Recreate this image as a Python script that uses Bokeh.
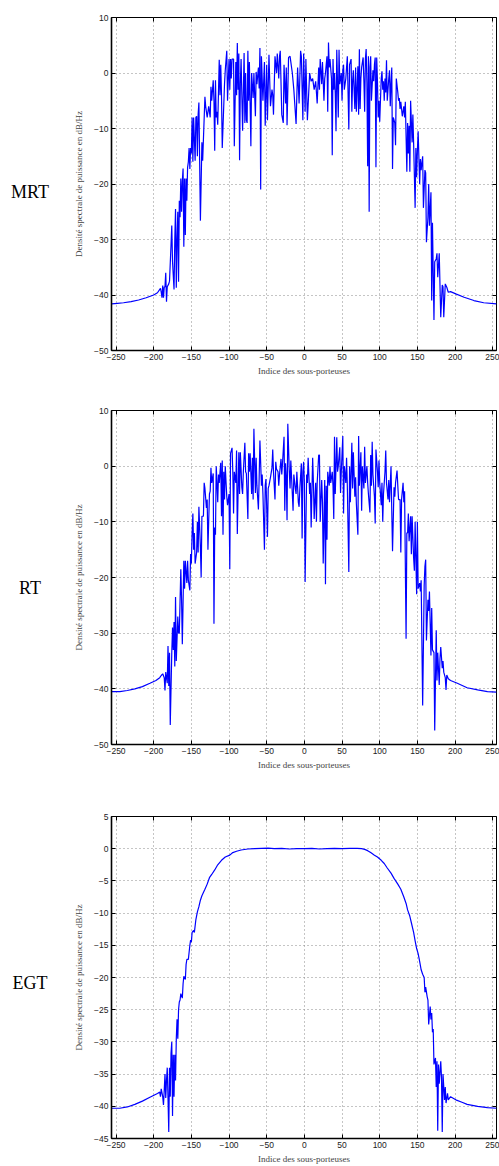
from bokeh.plotting import figure
from bokeh.layouts import column, row
from bokeh.models import Div, LinearAxis, FixedTicker, CustomJSTickFormatter, Range1d
from bokeh.embed import file_html
from bokeh.resources import INLINE

# ---------------- data ----------------
mrt_x = [-256, -248, -240, -230, -220, -210, -200, -195, -191, -190, -189, -188, -187, -186, -185, -184, -183, -182,
         -180, -179, -177, -176, -175, -173, -172, -171, -170, -169, -168, -167, -166, -165, -164, -163, -162, -161,
         -160, -159, -158, -157, -156, -155, -154, -153, -152, -151, -150, -149, -148, -147, -145, -144, -143, -142,
         -141, -140, -138, -136, -135, -132, -131, -129, -127, -125, -124, -123, -121, -120, -119, -118, -117, -116,
         -115, -113, -112, -111, -110, -109, -106, -105, -103, -102, -100, -99, -98, -97, -96, -94, -93, -91, -90,
         -89, -88, -87, -86, -85, -84, -83, -82, -80, -79, -78, -77, -76, -75, -74, -73, -71, -70, -68, -67, -65,
         -64, -63, -61, -60, -59, -58, -57, -55, -53, -52, -50, -49, -47, -45, -43, -42, -41, -39, -37, -36, -34,
         -33, -32, -30, -28, -27, -25, -24, -23, -21, -19, -18, -16, -14, -11, -9, -7, -5, -4, -2, -1, 1, 2, 4,
         7, 9, 11, 13, 15, 17, 19, 20, 21, 23, 24, 26, 27, 28, 29, 30, 31, 32, 33, 34, 36, 37, 38, 39, 40, 41, 42,
         43, 45, 46, 47, 49, 50, 51, 52, 53, 55, 57, 59, 60, 62, 63, 64, 65, 67, 68, 69, 71, 72, 73, 74, 75, 76,
         78, 79, 80, 81, 82, 83, 84, 85, 86, 87, 88, 89, 91, 92, 93, 94, 95, 96, 97, 98, 99, 100, 102, 103, 104,
         105, 106, 107, 108, 109, 110, 112, 113, 114, 115, 116, 117, 118, 120, 121, 122, 124, 125, 126, 127, 128,
         130, 132, 133, 134, 135, 136, 137, 138, 139, 140, 141, 143, 144, 145, 147, 148, 149, 150, 151, 153, 154,
         155, 157, 158, 160, 161, 162, 164, 165, 166, 168, 169, 170, 172, 173, 175, 176, 177, 179, 181, 183, 184,
         185, 187, 189, 191, 194, 201, 212, 225, 238, 255]
mrt_y = [-41.6, -41.5, -41.4, -41.2, -40.9, -40.5, -40.0, -39.6, -38.8, -39.5, -40.5, -38.3, -40.5, -38.6, -38.5,
         -36.0, -41.2, -38.5, -38.0, -37.5, -31.0, -27.5, -34.0, -39.0, -30.0, -24.5, -38.7, -30.0, -25.0, -37.6,
         -23.0, -26.0, -19.0, -25.0, -19.5, -17.2, -31.3, -19.0, -29.2, -19.0, -23.0, -17.0, -16.0, -13.5, -17.3,
         -13.5, -14.5, -8.0, -16.0, -8.0, -15.8, -8.0, -7.8, -15.0, -7.5, -5.3, -26.6, -12.5, -15.8, -4.3, -6.0,
         -8.0, -6.0, -8.0, -2.5, -5.0, -1.3, -5.0, -14.0, -1.3, -8.0, -7.0, -9.3, 2.4, -4.0, 1.5, -4.0, -13.5,
         -2.0, 0.5, 4.0, -5.0, 2.5, -3.0, 2.5, -1.0, 2.5, 2.5, -13.2, 2.0, -4.0, 5.4, -3.0, 3.5, -15.7, -2.0, 2.5,
         -4.0, -10.4, 3.6, -9.0, 0.0, -8.5, -9.0, 4.0, -5.0, 2.0, -13.2, 0.0, -4.5, 0.0, -7.8, 0.2, -2.0, 1.0,
         -2.8, 4.5, -21.0, 3.0, -5.0, 2.0, -9.5, 1.5, -8.5, 3.3, -6.0, -3.0, -4.0, -7.5, 3.0, 0.0, 3.5, -1.0, 3.0,
         4.0, -7.5, -9.0, 1.5, -5.5, 1.0, -9.4, 2.8, 3.0, 2.0, 0.0, -3.0, -9.2, 1.0, -5.5, 4.0, 3.0, -8.5, 3.5,
         -7.0, 2.5, -8.5, 0.0, -1.5, -1.0, -3.0, -1.5, -5.5, 1.0, -3.0, 2.5, -2.0, 2.0, -5.0, -1.0, 0.0, 1.5, 3.0,
         -7.0, 5.5, 1.0, 2.5, -1.0, -14.8, 2.5, -3.0, 0.0, -3.8, -10.5, 4.2, -8.0, 4.2, -2.0, 0.0, -5.0, 0.5, 1.5,
         -3.0, -1.0, 3.0, -10.2, 1.5, 2.5, -7.0, -1.5, 0.5, -6.5, 1.0, -7.0, 1.2, -7.5, 4.3, -6.5, -1.0, 1.0, 2.8,
         -1.5, -7.0, 2.5, 4.3, -1.8, -16.8, 3.0, -25.0, 1.0, 3.0, -5.0, 0.5, -1.5, 1.5, 2.8, -17.0, 2.8, -1.5,
         -8.0, -5.0, -8.8, -1.0, 0.3, -3.0, -1.5, -5.0, -1.0, -3.5, 2.3, -5.0, -1.0, 0.5, -6.0, -2.0, 1.0, -17.3,
         -8.0, -9.0, -13.0, -1.0, -3.5, -5.0, -4.5, -6.5, -5.2, -7.8, -6.0, -8.0, -5.2, -11.5, -17.8, -9.0, -14.5,
         -9.5, -17.8, -5.0, -12.5, -7.5, -12.7, -24.3, -13.5, -18.8, -14.0, -10.5, -20.0, -15.5, -17.5, -15.0,
         -24.3, -17.5, -18.0, -30.5, -26.0, -20.0, -27.5, -21.5, -41.0, -27.0, -44.5, -34.0, -33.5, -32.5, -36.8,
         -32.5, -44.0, -38.2, -38.5, -44.0, -38.0, -38.6, -39.5, -39.4, -39.8, -40.4, -41.0, -41.4, -41.6]

rt_x = [-256, -245, -235, -225, -215, -205, -197, -192, -190, -188, -186, -185, -184, -182, -181, -180, -179, -178,
        -176, -175, -174, -173, -172, -171, -170, -168, -167, -166, -164, -163, -162, -160, -159, -158, -156, -155,
        -154, -152, -151, -150, -149, -148, -147, -146, -145, -143, -142, -141, -140, -138, -137, -136, -134, -133,
        -132, -130, -129, -128, -126, -125, -124, -123, -121, -120, -119, -118, -117, -116, -115, -114, -113, -111,
        -110, -109, -108, -107, -106, -105, -103, -102, -100, -99, -98, -96, -95, -94, -93, -91, -90, -89, -87,
        -86, -85, -83, -82, -81, -79, -78, -77, -75, -74, -73, -72, -70, -69, -68, -67, -65, -64, -63, -61, -60,
        -59, -57, -56, -55, -53, -52, -51, -49, -48, -47, -45, -43, -42, -41, -39, -38, -37, -35, -34, -33, -31,
        -30, -29, -27, -26, -25, -24, -23, -22, -20, -19, -18, -16, -15, -14, -12, -11, -10, -8, -7, -6, -4, -3,
        -2, -1, 0, 1, 3, 4, 5, 7, 8, 9, 11, 12, 13, 15, 16, 17, 19, 20, 21, 23, 24, 25, 27, 28, 29, 30, 31, 33,
        34, 35, 37, 38, 39, 40, 41, 43, 44, 45, 47, 48, 49, 51, 52, 53, 55, 56, 57, 59, 60, 61, 63, 64, 65, 67,
        68, 69, 71, 72, 73, 75, 76, 77, 79, 80, 81, 83, 84, 85, 87, 88, 89, 90, 91, 93, 94, 95, 97, 98, 99, 100,
        102, 103, 104, 105, 107, 108, 109, 111, 112, 113, 115, 116, 117, 119, 120, 121, 123, 124, 125, 127, 128,
        129, 131, 132, 133, 135, 136, 137, 138, 139, 141, 142, 143, 145, 146, 147, 149, 150, 151, 153, 154, 155,
        157, 159, 160, 161, 162, 164, 165, 166, 168, 169, 170, 172, 173, 175, 176, 177, 179, 180, 181, 183, 184,
        185, 187, 188, 189, 191, 194, 203, 216, 230, 243, 255]
rt_y = [-40.5, -40.5, -40.3, -40.0, -39.6, -39.0, -38.5, -38.0, -37.6, -37.3, -38.0, -40.3, -37.0, -39.0, -32.3,
        -39.5, -33.5, -46.5, -33.5, -29.0, -33.0, -28.0, -36.0, -23.5, -35.0, -27.0, -30.0, -30.0, -18.5, -24.0,
        -32.0, -17.0, -22.0, -17.0, -21.0, -17.0, -20.5, -22.3, -15.8, -17.5, -12.0, -8.5, -15.0, -12.0, -17.5,
        -15.5, -10.0, -15.5, -7.3, -14.5, -20.0, -9.0, -9.0, -3.0, -4.0, -7.5, -6.0, -15.0, -5.0, -4.5, -0.3,
        -3.0, -1.3, -28.3, -11.0, -12.3, 0.0, -3.0, -6.5, -1.5, -3.0, 0.6, -9.0, 1.0, -12.3, -1.0, -6.0, 0.0,
        -5.5, -7.0, -5.0, -18.5, 2.3, 3.3, -1.0, -8.5, -1.0, -3.0, 2.8, -12.2, 2.5, -5.0, 2.5, -3.8, -5.0, -1.0,
        4.2, -1.0, -1.3, -9.5, 2.3, -1.0, 2.3, -5.0, 1.5, -6.0, 6.7, -4.8, 1.5, -3.5, -7.8, -2.0, 4.6, -3.5, -1.5,
        -5.0, -15.0, -3.5, -2.3, -12.7, -4.0, -3.5, -2.0, -0.3, 3.0, -1.0, -6.0, 0.8, -0.5, -1.0, -3.5, -1.5, 1.3,
        -1.5, 0.5, 5.3, -8.0, 0.5, -2.0, -9.7, 7.6, -1.0, -4.0, 1.0, -5.0, -8.0, -1.5, -4.0, -5.0, -1.0, -6.5,
        -7.3, -4.0, 0.5, -13.0, -1.0, 0.8, -3.0, -20.8, -1.5, -3.0, 1.5, -5.0, -3.0, -11.0, 1.5, -3.0, -9.5, -3.0,
        -10.0, -3.0, 2.0, 2.0, -10.0, -2.5, -6.5, -17.5, -2.5, -21.2, -3.5, -13.2, -1.0, -3.5, 0.0, -3.0, -1.0,
        -3.5, -9.5, 5.3, -5.0, 5.2, -1.0, 0.0, 3.4, -4.8, -1.0, 5.4, -8.5, 0.0, -3.0, 1.5, -3.5, -19.0, 0.0, -6.5,
        4.2, -4.0, 2.5, -5.5, -2.0, -6.7, -12.3, 5.4, -3.5, 2.5, -8.0, 0.0, -4.0, 3.5, -3.0, 0.0, -3.0, -5.0,
        -8.3, 2.0, -3.5, 4.4, -1.5, -5.5, -10.3, 3.0, -1.0, -3.8, 1.0, -3.0, -7.0, -3.0, -10.0, -5.0, -1.0, 2.8,
        -3.0, -6.0, -2.5, -6.5, 0.0, -8.0, -15.3, -3.8, -5.5, -3.0, -0.8, -3.5, -6.0, -6.0, -15.5, -6.0, -3.0,
        -6.5, -4.5, -31.0, -12.0, -12.0, -8.5, -13.5, -9.0, -15.8, -9.0, -16.5, -18.8, -10.0, -23.0, -10.0, -22.0,
        -21.0, -22.5, -20.5, -43.0, -21.5, -18.0, -16.8, -31.3, -24.0, -26.0, -22.5, -34.0, -25.5, -33.0, -33.5,
        -47.5, -29.5, -38.5, -33.5, -39.3, -34.5, -32.5, -36.3, -35.0, -37.0, -38.0, -40.2, -37.5, -38.2, -38.5,
        -39.0, -39.8, -40.2, -40.5, -40.6]

egt_x = [-256, -245, -235, -225, -215, -205, -195, -192, -191, -190, -188, -187, -186, -185, -184, -183, -182, -181,
         -180, -179, -178, -177, -176, -175, -174, -173, -172, -171, -170, -169, -168, -167, -166, -165, -164, -162,
         -161, -160, -158, -157, -156, -154, -152, -151, -150, -149, -147, -146, -144, -142, -140, -138, -136, -132,
         -129, -126, -123, -119, -115, -110, -105, -99, -95, -90, -84, -75, -66, -57, -48, -40, -30, -20, -10, 0,
         10, 20, 30, 40, 50, 60, 70, 76, 80, 84, 88, 93, 97, 102, 106, 110, 115, 119, 124, 128, 132, 135, 137, 140,
         142, 145, 147, 149, 151, 153, 155, 157, 159, 160, 161, 163, 164, 165, 167, 168, 169, 170, 171, 172, 174,
         175, 176, 177, 178, 179, 181, 182, 183, 184, 186, 187, 188, 190, 191, 194, 201, 210, 216, 230, 243, 255]
egt_y = [-40.3, -40.3, -40.1, -39.7, -39.2, -38.6, -38.0, -37.8, -38.5, -37.3, -38.5, -39.8, -37.5, -35.0, -38.7,
         -36.0, -34.0, -38.7, -44.0, -34.0, -38.5, -31.8, -30.0, -41.5, -32.0, -38.5, -32.0, -36.0, -29.5, -26.5,
         -29.5, -25.0, -23.8, -23.5, -22.5, -23.2, -21.0, -19.8, -20.3, -18.0, -17.2, -17.2, -15.0, -14.2, -14.5,
         -13.0, -12.7, -13.0, -11.0, -9.8, -9.0, -8.0, -7.3, -6.3, -5.5, -4.5, -4.0, -3.3, -2.5, -1.8, -1.3, -1.0,
         -0.6, -0.4, -0.2, -0.05, 0.0, 0.05, 0.1, 0.0, 0.05, -0.05, 0.0, 0.0, 0.05, -0.05, 0.0, 0.05, 0.0, 0.05,
         0.05, 0.0, -0.1, -0.3, -0.6, -1.0, -1.3, -1.8, -2.3, -3.0, -3.8, -4.6, -5.5, -6.3, -7.5, -8.5, -9.5, -10.5,
         -11.5, -13.0, -14.3, -15.5, -16.3, -17.5, -18.8, -19.5, -20.0, -22.3, -21.5, -23.0, -23.5, -27.3, -24.5,
         -26.5, -25.5, -28.5, -28.0, -33.5, -32.5, -37.0, -33.0, -43.8, -33.5, -36.5, -33.0, -35.5, -44.0, -35.0,
         -39.0, -37.0, -39.5, -38.0, -39.0, -38.5, -39.0, -39.4, -39.7, -40.0, -40.2, -40.3]

x_ticks = [-250, -200, -150, -100, -50, 0, 50, 100, 150, 200, 250]
y_ticks_a = [-50, -40, -30, -20, -10, 0, 10]
y_ticks_c = [-45, -40, -35, -30, -25, -20, -15, -10, -5, 0, 5]
names = ["MRT", "RT", "EGT"]
x_label = "Indice des sous-porteuses"
y_label = "Densité spectrale de puissance en dB/Hz"

FMT = CustomJSTickFormatter(code="return tick < 0 ? '\\u2212' + Math.abs(tick) : '' + tick;")


def panel(name, xs, ys, yr, yt, top, frame_h, bottom, label_top):
    h = top + frame_h + bottom
    p = figure(width=439, height=h, x_range=Range1d(-256, 255), y_range=Range1d(*yr),
               output_backend="svg", toolbar_location=None,
               min_border_left=51, min_border_right=3, min_border_top=top, min_border_bottom=bottom)
    p.line(xs, ys, line_color="#0000ff", line_width=1.2)
    p.outline_line_color = "black"
    p.outline_line_width = 1
    p.outline_line_alpha = 1
    p.background_fill_color = "white"
    p.border_fill_color = "white"

    for ax, ticks in ((p.xaxis[0], x_ticks), (p.yaxis[0], yt)):
        ax.ticker = FixedTicker(ticks=ticks)
        ax.formatter = FMT
        ax.major_tick_in = 4
        ax.major_tick_out = 0
        ax.minor_tick_line_color = None
        ax.axis_line_width = 1.6
        ax.axis_line_color = "black"
        ax.major_tick_line_color = "black"
        ax.major_label_text_font = "Liberation Sans"
        ax.major_label_text_font_size = "8.5px"
        ax.major_label_text_color = "#222222"
        ax.major_label_standoff = 3
        ax.axis_label_text_font = "Liberation Serif"
        ax.axis_label_text_font_size = "9px"
        ax.axis_label_text_font_style = "normal"
        ax.axis_label_text_color = "#444444"
    p.xaxis[0].axis_label = x_label
    p.xaxis[0].axis_label_standoff = 3
    p.yaxis[0].axis_label = y_label
    p.yaxis[0].axis_label_standoff = 7

    for loc, ticks in (("right", yt), ("above", x_ticks)):
        ax = LinearAxis(ticker=FixedTicker(ticks=ticks), major_tick_in=4, major_tick_out=0,
                        minor_tick_line_color=None, axis_line_color=None,
                        major_label_text_font_size="0px", major_label_text_color=None,
                        major_label_standoff=0, major_tick_line_color="black")
        p.add_layout(ax, loc)

    p.grid[0].ticker = FixedTicker(ticks=x_ticks)
    p.grid[1].ticker = FixedTicker(ticks=yt)
    for g in p.grid:
        g.grid_line_color = "#8a8a8a"
        g.grid_line_dash = "1 3"
        g.grid_line_alpha = 1.0

    d = Div(text=f'<div style="padding-top:{label_top}px; width:60px; text-align:center; '
                 f'font-family:\'Liberation Serif\'; font-size:18px; color:#000;">{name}</div>',
            width=60, height=h, margin=0)
    return row(d, p, spacing=0)


r1 = panel(names[0], mrt_x, mrt_y, (-50, 10), y_ticks_a, 17, 333, 30, 180)
r2 = panel(names[1], rt_x, rt_y, (-50, 10), y_ticks_a, 30, 334, 36, 196)
r3 = panel(names[2], egt_x, egt_y, (-45, 5), y_ticks_c, 36, 323, 27, 191)
layout = column(r1, r2, r3, spacing=0)

open("out.html", "w", encoding="utf-8").write(file_html(layout, INLINE, title="DSP"))
